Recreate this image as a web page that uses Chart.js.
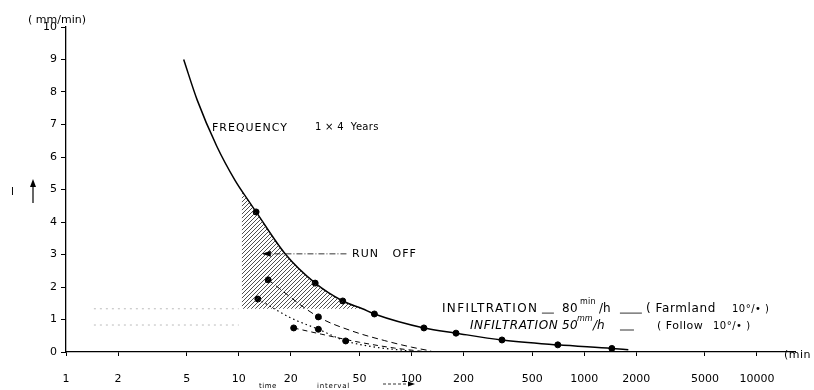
<!DOCTYPE html>
<html>
<head>
<meta charset="utf-8">
<script src="https://cdn.jsdelivr.net/npm/chart.js@4.4.0/dist/chart.umd.min.js"></script>
<style>
  html, body { margin: 0; background: #fff; }
  #wrap { width: 814px; height: 390px; }
</style>
</head>
<body>
<div id="wrap"><canvas id="chart"></canvas></div>
<script>
// axis ticks
const xTicks = [1, 2, 5, 10, 20, 50, 100, 200, 500, 1000, 2000, 5000, 10000];
const yTicks = [0, 1, 2, 3, 4, 5, 6, 7, 8, 9, 10];

// frequency curve 1 x 4 years (time interval in min, intensity in mm/min)
const freqX = [4.8, 5.75, 7.45, 9.5, 11.3, 12.6, 18.7, 27.7, 40, 52, 61, 118, 181, 334, 703, 1445, 1800];
const freqY = [9.0, 7.75, 6.34, 5.29, 4.68, 4.31, 3.0, 2.12, 1.57, 1.33, 1.17, 0.74, 0.58, 0.37, 0.22, 0.11, 0.07];
const freqDotX = [12.6, 27.7, 40, 61, 118, 181, 334, 703, 1445];
const freqDotY = [4.31, 2.12, 1.57, 1.17, 0.74, 0.58, 0.37, 0.22, 0.11];

// run off area above infiltration 80 mm/h
const runoffX = [10.4, 11.3, 12.6, 18.7, 27.7, 40, 52];
const runoffY = [4.95, 4.68, 4.31, 3.0, 2.12, 1.57, 1.33];

// infiltration levels (mm/min)
const infil80 = 1.33;
const infil50 = 0.83;
const infilX = [1.45, 10];

// dashed / dotted run off curves
const curveAX = [14.8, 28.9, 45, 70, 100, 130];
const curveAY = [2.22, 1.08, 0.65, 0.35, 0.15, 0.03];
const curveADots = [14.8, 28.9];
const curveBX = [12.9, 20, 28.9, 41.6, 60, 90, 110];
const curveBY = [1.63, 1.05, 0.7, 0.34, 0.16, 0.05, 0.0];
const curveBDots = [12.9, 28.9, 41.6];
const curveCX = [20.8, 30, 50, 80, 115];
const curveCY = [0.74, 0.55, 0.3, 0.12, 0.02];
const curveCDots = [20.8];

const pts = (xs, ys) => xs.map((x, i) => ({ x, y: ys[i] }));
const dotsOf = (xs, ys, keep) => pts(xs, ys).filter(p => keep.includes(p.x));

function hatchPattern(ctx) {
    const c = document.createElement('canvas');
    c.width = 4; c.height = 4;
    const g = c.getContext('2d');
    g.strokeStyle = '#222';
    g.lineWidth = 0.8;
    g.beginPath();
    g.moveTo(0, 4); g.lineTo(4, 0);
    g.moveTo(-1, 1); g.lineTo(1, -1);
    g.moveTo(3, 5); g.lineTo(5, 3);
    g.stroke();
    return ctx.createPattern(c, 'repeat');
}

const FONT = '"DejaVu Sans", sans-serif';

const labelsPlugin = {
    id: 'labels',
    afterDraw(chart) {
        const { ctx, scales: { x, y } } = chart;
        const X = v => x.getPixelForValue(v);
        const Y = v => y.getPixelForValue(v);
        const text = (t, px, py, font, spacing) => {
            ctx.font = font;
            ctx.letterSpacing = (spacing || 0) + 'px';
            ctx.fillText(t, px, py);
            ctx.letterSpacing = '0px';
        };
        const rule = (x0, x1, py) => {
            ctx.lineWidth = 0.8;
            ctx.beginPath();
            ctx.moveTo(x0, py); ctx.lineTo(x1, py);
            ctx.stroke();
        };
        ctx.save();
        ctx.fillStyle = '#000';
        ctx.strokeStyle = '#000';
        ctx.textBaseline = 'middle';

        // unit of y axis
        ctx.textAlign = 'center';
        text('( mm/min)', 57, 20, '11px ' + FONT);

        // I arrow
        ctx.textAlign = 'left';
        text('I', 11, 192, '10px ' + FONT);
        ctx.lineWidth = 1.2;
        ctx.beginPath();
        ctx.moveTo(33, 203); ctx.lineTo(33, 182);
        ctx.stroke();
        ctx.beginPath();
        ctx.moveTo(33, 179); ctx.lineTo(30, 187); ctx.lineTo(36, 187); ctx.closePath();
        ctx.fill();

        // x unit
        text('(min', 784, 355, '11px ' + FONT, 0.5);

        // time interval
        text('time', 259, 386, '7px ' + FONT, 0.5);
        text('interval', 317, 386, '7px ' + FONT, 0.8);
        ctx.lineWidth = 0.8;
        ctx.setLineDash([3, 2]);
        rule(383, 410, 384);
        ctx.setLineDash([]);
        ctx.beginPath();
        ctx.moveTo(415, 384); ctx.lineTo(408, 381.5); ctx.lineTo(408, 386.5); ctx.closePath();
        ctx.fill();

        // frequency label
        text('FREQUENCY', X(7.0), Y(6.9), '11px ' + FONT, 1);
        text('1 \u00d7 4  Years', X(27.6), Y(6.9), '10px ' + FONT, 0.3);

        // run off arrow
        const ry = Y(3.02);
        ctx.lineWidth = 0.9;
        ctx.setLineDash([6, 2, 1, 2]);
        rule(X(13.9), X(43), ry);
        ctx.setLineDash([]);
        ctx.beginPath();
        ctx.moveTo(X(13.6), ry);
        ctx.lineTo(X(13.6) + 9, ry - 3);
        ctx.lineTo(X(13.6) + 9, ry + 3);
        ctx.closePath();
        ctx.fill();
        text('RUN   OFF', X(45.3), ry, '11px ' + FONT, 1);

        // infiltration 80 mm/h
        const a = X(150), ay = Y(1.32);
        text('INFILTRATION', a, ay, '12px ' + FONT, 1.4);
        rule(a + 100, a + 112, ay + 4);
        text('80', a + 120, ay, '12px ' + FONT, 0.5);
        text('min', a + 138, ay - 7, '8px ' + FONT, 0.3);
        text('/h', a + 157, ay, '12px ' + FONT);
        rule(a + 178, a + 200, ay + 4);
        text('( Farmland', a + 204, ay, '12px ' + FONT, 0.6);
        text('10\u00b0/\u2022 )', a + 290, ay, '10px ' + FONT, 0.5);

        // infiltration 50 mm/h
        const b = X(218), by = Y(0.8);
        text('INFILTRATION', b, by, 'italic 12px ' + FONT, 0.6);
        text('50', b + 92, by, 'italic 12px ' + FONT, 0.5);
        text('mm', b + 107, by - 7, 'italic 8px ' + FONT);
        text('/h', b + 123, by, 'italic 12px ' + FONT);
        rule(b + 150, b + 164, by + 4);
        text('( Follow', b + 187, by, '11px ' + FONT, 0.5);
        text('10\u00b0/\u2022 )', b + 243, by, '10px ' + FONT, 0.5);
        ctx.restore();
    }
};

const canvas = document.getElementById('chart');
const c2d = canvas.getContext('2d');

const lineBase = {
    type: 'line',
    pointRadius: 0,
    fill: false,
    cubicInterpolationMode: 'monotone',
    borderColor: '#000'
};
const dotBase = {
    type: 'scatter',
    pointRadius: 3,
    pointHoverRadius: 3,
    backgroundColor: '#000',
    borderColor: '#000',
    showLine: false
};

new Chart(canvas, {
    type: 'line',
    data: {
        datasets: [
            {
                ...lineBase,
                data: pts(runoffX, runoffY),
                borderWidth: 0,
                borderColor: 'rgba(0,0,0,0)',
                backgroundColor: hatchPattern(c2d),
                fill: { value: infil80 }
            },
            { ...lineBase, data: pts(freqX, freqY), borderWidth: 1.5 },
            { ...dotBase, data: pts(freqDotX, freqDotY) },
            { ...lineBase, data: pts(curveAX, curveAY), borderWidth: 1, borderDash: [6, 4] },
            { ...dotBase, data: dotsOf(curveAX, curveAY, curveADots) },
            { ...lineBase, data: pts(curveBX, curveBY), borderWidth: 1.2, borderDash: [1.5, 3] },
            { ...dotBase, data: dotsOf(curveBX, curveBY, curveBDots) },
            { ...lineBase, data: pts(curveCX, curveCY), borderWidth: 1, borderDash: [5, 4] },
            { ...dotBase, data: dotsOf(curveCX, curveCY, curveCDots) },
            { ...lineBase, data: infilX.map(x => ({ x, y: infil80 })), borderWidth: 1, borderColor: '#bbb', borderDash: [2, 4] },
            { ...lineBase, data: infilX.map(x => ({ x, y: infil50 })), borderWidth: 1, borderColor: '#bbb', borderDash: [2, 4] }
        ]
    },
    options: {
        responsive: true,
        maintainAspectRatio: false,
        animation: false,
        layout: { padding: { top: 27, right: 19, left: 0, bottom: 0 } },
        plugins: {
            legend: { display: false },
            tooltip: { enabled: false }
        },
        scales: {
            x: {
                type: 'logarithmic',
                min: 1,
                max: 16600,
                afterBuildTicks: s => { s.ticks = xTicks.map(v => ({ value: v })); },
                afterFit: s => { s.height = 38; },
                ticks: {
                    autoSkip: false,
                    maxRotation: 0,
                    padding: 17,
                    color: '#000',
                    font: { family: FONT, size: 11 },
                    callback: v => String(v)
                },
                grid: { drawOnChartArea: false, tickLength: 4, color: '#000' },
                border: { color: '#000', width: 1.3 }
            },
            y: {
                type: 'linear',
                min: 0,
                max: 10,
                afterBuildTicks: s => { s.ticks = yTicks.map(v => ({ value: v })); },
                afterFit: s => { s.width = 66; },
                ticks: {
                    padding: 4,
                    color: '#000',
                    font: { family: FONT, size: 11 }
                },
                grid: { drawOnChartArea: false, tickLength: 5, color: '#000' },
                border: { color: '#000', width: 1.3 }
            }
        }
    },
    plugins: [labelsPlugin]
});
</script>
</body>
</html>
